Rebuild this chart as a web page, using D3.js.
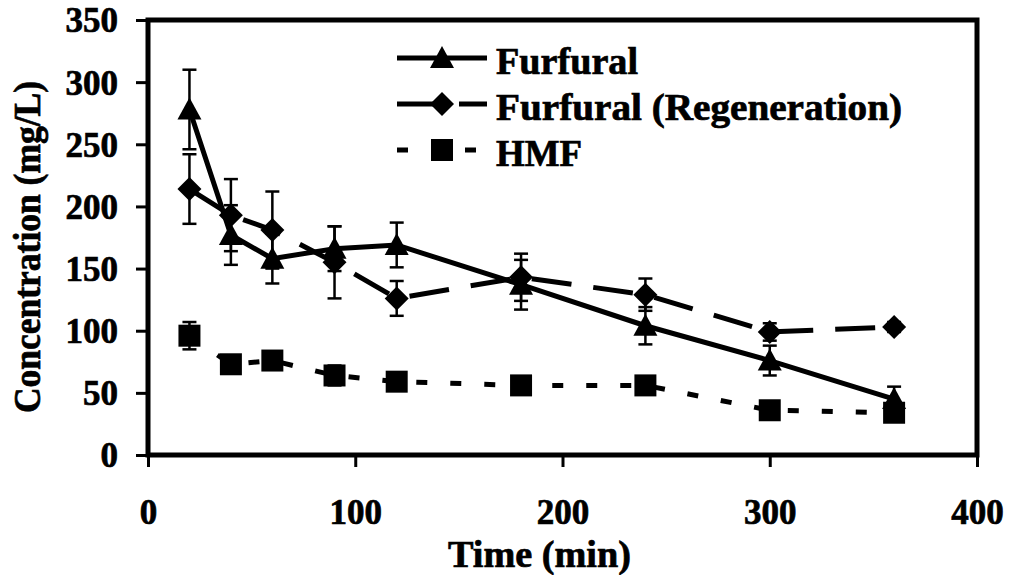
<!DOCTYPE html>
<html>
<head>
<meta charset="utf-8">
<script src="https://cdn.jsdelivr.net/npm/d3@7"></script>
<style>
  body { margin: 0; background: #fff; }
  text { font-family: "Liberation Serif", "Times New Roman", serif; font-weight: bold; fill: #000; stroke: #000; stroke-width: 0.7px; }
</style>
</head>
<body>
<div id="chart"></div>
<script>
// time points (min)
var times = [20, 40, 60, 90, 120, 180, 240, 300, 360];

// concentrations (mg/L) and error bar half-widths
var furfural = [278, 177, 158, 166, 169, 137, 104, 76, 45];
var furfuralErr = [32, 24, 20, 18, 18, 20, 15, 12, 10];

var furfuralRegen = [214, 193, 181, 155, 126, 143, 129, 99, 103];
var furfuralRegenErr = [28, 29, 31, 29, 14, 19, 13, 7, 4];

var hmf = [96, 73, 76, 64, 59, 56, 56, 36, 34];
var hmfErr = [11, 4, 4, 8, 4, 3, 3, 3, 3];

var xTicks = [0, 100, 200, 300, 400];
var yTicks = [0, 50, 100, 150, 200, 250, 300, 350];

var seriesNames = ["Furfural", "Furfural (Regeneration)", "HMF"];

var width = 1009,
    height = 575;

var margin = {top: 20, right: 32, bottom: 120, left: 148};

var x = d3.scaleLinear().domain([0, 400]).range([margin.left, width - margin.right]);
var y = d3.scaleLinear().domain([0, 350]).range([height - margin.bottom, margin.top]);

var series = [
    {name: seriesNames[0], values: furfural, err: furfuralErr, dash: null, marker: "triangle", legendW: 142},
    {name: seriesNames[1], values: furfuralRegen, err: furfuralRegenErr, dash: "40,22", marker: "diamond", legendW: 406},
    {name: seriesNames[2], values: hmf, err: hmfErr, dash: "11,23", marker: "square", legendW: 86}
];
series.forEach(function(s) {
    s.points = times.map(function(t, i) { return {t: t, v: s.values[i], e: s.err[i]}; });
});

function markerPath(type) {
    if (type === "triangle") return "M0,-12L12,10L-12,10Z";
    if (type === "diamond") return "M0,-12L12,0L0,12L-12,0Z";
    return "M-11,-11H11V11H-11Z";
}

var svg = d3.select("#chart").append("svg")
    .attr("width", width)
    .attr("height", height);

svg.append("rect").attr("width", width).attr("height", height).attr("fill", "#fff");

// y axis
var yAxis = svg.append("g")
    .attr("transform", "translate(" + margin.left + ",0)")
    .call(d3.axisLeft(y).tickValues(yTicks).tickSize(12).tickPadding(18));
yAxis.select(".domain").remove();
yAxis.selectAll(".tick line").attr("stroke-width", 3);
yAxis.selectAll(".tick text")
    .style("font-size", "35px")
    .attr("dy", "0.34em");

// x axis
var xAxis = svg.append("g")
    .attr("transform", "translate(0," + y(0) + ")")
    .call(d3.axisBottom(x).tickValues(xTicks).tickSize(12).tickPadding(32));
xAxis.select(".domain").remove();
xAxis.selectAll(".tick line").attr("stroke-width", 3);
xAxis.selectAll(".tick text")
    .style("font-size", "35px")
    .attr("dy", "0.71em");

// plot box
svg.append("rect")
    .attr("x", x(0))
    .attr("y", y(350))
    .attr("width", x(400) - x(0))
    .attr("height", y(0) - y(350))
    .attr("fill", "none")
    .attr("stroke", "#000")
    .attr("stroke-width", 5);

// axis titles
svg.append("text")
    .attr("x", (x(0) + x(400)) / 2 - 23)
    .attr("y", 567)
    .attr("text-anchor", "middle")
    .attr("textLength", 183)
    .attr("lengthAdjust", "spacingAndGlyphs")
    .style("font-size", "38px")
    .text("Time (min)");

svg.append("text")
    .attr("transform", "translate(40," + 247 + ") rotate(-90)")
    .attr("text-anchor", "middle")
    .attr("textLength", 332)
    .attr("lengthAdjust", "spacingAndGlyphs")
    .style("font-size", "38px")
    .text("Concentration (mg/L)");

var line = d3.line()
    .x(function(d) { return x(d.t); })
    .y(function(d) { return y(d.v); });

// lines
svg.append("g").selectAll("path")
    .data(series)
    .enter().append("path")
    .attr("d", function(s) { return line(s.points); })
    .attr("fill", "none")
    .attr("stroke", "#000")
    .attr("stroke-width", 5)
    .attr("stroke-dasharray", function(s) { return s.dash; });

// error bars + markers per series
series.forEach(function(s) {
    var g = svg.append("g");
    var eb = g.selectAll(".err")
        .data(s.points)
        .enter().append("g")
        .attr("class", "err")
        .attr("stroke", "#000")
        .attr("stroke-width", 2.5);
    eb.append("line")
        .attr("x1", function(d) { return x(d.t); })
        .attr("x2", function(d) { return x(d.t); })
        .attr("y1", function(d) { return y(d.v + d.e); })
        .attr("y2", function(d) { return y(d.v - d.e); });
    eb.append("line")
        .attr("x1", function(d) { return x(d.t) - 7; })
        .attr("x2", function(d) { return x(d.t) + 7; })
        .attr("y1", function(d) { return y(d.v + d.e); })
        .attr("y2", function(d) { return y(d.v + d.e); });
    eb.append("line")
        .attr("x1", function(d) { return x(d.t) - 7; })
        .attr("x2", function(d) { return x(d.t) + 7; })
        .attr("y1", function(d) { return y(d.v - d.e); })
        .attr("y2", function(d) { return y(d.v - d.e); });

    g.selectAll(".mk")
        .data(s.points)
        .enter().append("path")
        .attr("class", "mk")
        .attr("d", markerPath(s.marker))
        .attr("transform", function(d) { return "translate(" + x(d.t) + "," + y(d.v) + ")"; })
        .attr("fill", "#000");
});

// legend
var legend = svg.append("g").selectAll("g")
    .data(series)
    .enter().append("g")
    .attr("transform", function(s, i) { return "translate(397," + (58 + i * 46) + ")"; });

legend.append("line")
    .attr("x1", 0)
    .attr("x2", 90)
    .attr("stroke", "#000")
    .attr("stroke-width", 5)
    .attr("stroke-dasharray", function(s) { return s.dash; });

legend.append("path")
    .attr("d", function(s) { return markerPath(s.marker); })
    .attr("transform", "translate(45,0)")
    .attr("fill", "#000");

legend.append("text")
    .attr("x", 99)
    .attr("y", 16)
    .attr("textLength", function(s) { return s.legendW; })
    .attr("lengthAdjust", "spacingAndGlyphs")
    .style("font-size", "37px")
    .text(function(s) { return s.name; });
</script>
</body>
</html>
